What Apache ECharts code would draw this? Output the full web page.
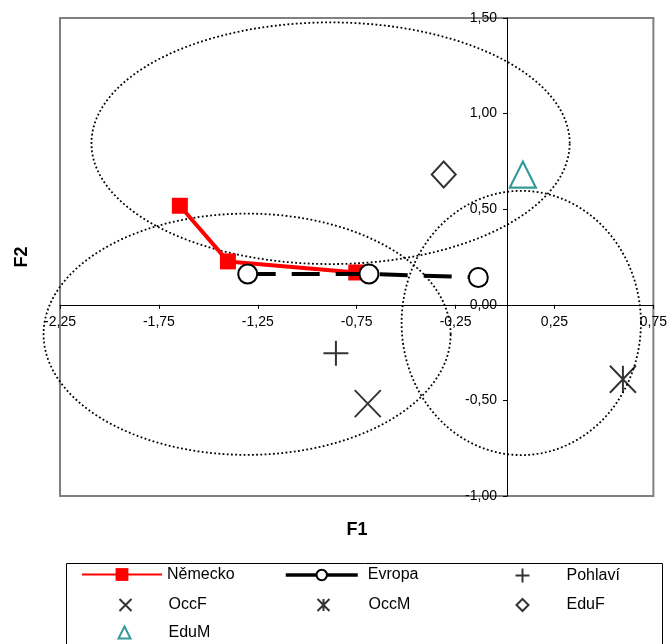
<!DOCTYPE html>
<html>
<head>
<meta charset="utf-8">
<script src="https://cdn.jsdelivr.net/npm/echarts@6/dist/echarts.min.js"></script>
<style>
  html, body { margin: 0; padding: 0; background: #fff; }
  #chart { width: 670px; height: 644px; }
</style>
</head>
<body>
<div id="chart"></div>
<script>
// ---- data ----
const xMin = -2.25, xMax = 0.75, xStep = 0.5;
const yMin = -1.0, yMax = 1.5, yStep = 0.5;

const nemecko = [[-1.644, 0.518], [-1.401, 0.227], [-0.752, 0.169]];
const evropa  = [[-1.301, 0.161], [-0.688, 0.161], [-0.135, 0.143]];
const pohlavi = [[-0.855, -0.254]];
const occF    = [[-0.694, -0.517]];
const occM    = [[0.596, -0.389]];
const eduF    = [[-0.310, 0.681]];
const eduM    = [[0.090, 0.681]];
// confidence ellipses: [centre x, centre y, radius x, radius y]
const ellipses = [
  [-0.882, 0.845, 1.209, 0.632],
  [-1.304, -0.154, 1.029, 0.631],
  [0.082, -0.095, 0.605, 0.691]
];

const FONT = '"Liberation Sans", Arial, sans-serif';
const fmt = v => v.toFixed(2).replace('.', ',');

// plot area layout
const G = { left: 60, top: 18, width: 596, height: 478 };
// axes cross at x = 0 and y = 0: shift them inside the grid accordingly
const yAxisShift = -(0 - xMin) / (xMax - xMin) * G.width;
const xAxisShift = -(0 - yMin) / (yMax - yMin) * G.height;

const chart = echarts.init(document.getElementById('chart'), null, { renderer: 'canvas' });

function legendItem(name, left, top, w, h, padLeft, extra) {
  return Object.assign({
    data: [name], left: left, top: top, itemWidth: w, itemHeight: h,
    padding: 0, selectedMode: false, orient: 'horizontal',
    textStyle: { fontFamily: FONT, fontSize: 16, color: '#000', padding: [0, 0, 0, padLeft] }
  }, extra || {});
}

const option = {
  animation: false,
  backgroundColor: '#fff',
  grid: Object.assign({
    show: true, borderColor: '#808080', borderWidth: 2, backgroundColor: 'transparent'
  }, G),
  xAxis: {
    type: 'value', min: xMin, max: xMax, interval: xStep,
    position: 'bottom', offset: xAxisShift,
    axisLine: { onZero: false, lineStyle: { color: '#000', width: 1 } },
    axisTick: { show: true, length: 4, lineStyle: { color: '#000' } },
    axisLabel: { formatter: fmt, color: '#000', fontFamily: FONT, fontSize: 14, margin: 10 },
    splitLine: { show: false }
  },
  yAxis: {
    type: 'value', min: yMin, max: yMax, interval: yStep,
    position: 'left', offset: yAxisShift,
    axisLine: { show: true, onZero: false, lineStyle: { color: '#000', width: 1 } },
    axisTick: { show: true, length: 4, lineStyle: { color: '#000' } },
    axisLabel: { formatter: fmt, color: '#000', fontFamily: FONT, fontSize: 14, margin: 10 },
    splitLine: { show: false }
  },
  legend: [
    legendItem('Německo', 81, 566.5, 80, 16, 0),
    legendItem('Evropa', 284, 567, 72, 13, 5, { lineStyle: { type: 'solid', width: 3.5 } }),
    legendItem('Pohlaví', 513, 566, 14, 14, 32),
    legendItem('OccF', 117, 596.5, 12, 12, 32),
    legendItem('OccM', 315, 596.5, 12, 12, 34),
    legendItem('EduF', 514, 596.5, 12, 12, 33),
    legendItem('EduM', 116, 624, 12, 12, 33)
  ],
  graphic: [
    { type: 'rect', left: 64, top: 561, shape: { width: 596, height: 100 },
      style: { fill: 'none', stroke: '#000', lineWidth: 1 }, z: -1 },
    { type: 'text', x: 22, y: 257, rotation: Math.PI / 2,
      style: { text: 'F2', font: 'bold 18px ' + FONT, fill: '#000',
               textAlign: 'center', textVerticalAlign: 'middle', align: 'center', verticalAlign: 'middle' } },
    { type: 'text', x: 357, y: 530,
      style: { text: 'F1', font: 'bold 18px ' + FONT, fill: '#000',
               textAlign: 'center', textVerticalAlign: 'middle', align: 'center', verticalAlign: 'middle' } }
  ],
  series: [
    {
      type: 'custom', name: 'ellipses', clip: false, silent: true, z: 1,
      dimensions: ['cx', 'cy', 'rx', 'ry'],
      encode: { x: 0, y: 1 },
      data: ellipses,
      renderItem: function (params, api) {
        const cx = api.value(0), cy = api.value(1), rx = api.value(2), ry = api.value(3);
        const pts = [];
        for (let i = 0; i <= 180; i++) {
          const t = 2 * Math.PI * i / 180;
          pts.push(api.coord([cx + rx * Math.cos(t), cy + ry * Math.sin(t)]));
        }
        return { type: 'polyline', shape: { points: pts },
                 style: { fill: 'none', stroke: '#000', lineWidth: 1.8, lineDash: [1.8, 2.4] } };
      }
    },
    {
      name: 'Německo', type: 'line', data: nemecko, z: 3,
      symbol: 'rect', symbolSize: 16,
      itemStyle: { color: '#ff0000' },
      lineStyle: { color: '#ff0000', width: 4 }
    },
    {
      name: 'Evropa', type: 'line', data: evropa, z: 4,
      symbol: 'circle', symbolSize: 19,
      itemStyle: { color: '#ffffff', borderColor: '#000', borderWidth: 2 },
      lineStyle: { color: '#000', width: 4, type: [28, 16] }
    },
    {
      name: 'Pohlaví', type: 'scatter', data: pohlavi, z: 5,
      symbol: 'path://M10,0L10,20M0,10L20,10', symbolSize: [25, 25],
      itemStyle: { color: 'none', borderColor: '#000', borderWidth: 2 }
    },
    {
      name: 'OccF', type: 'scatter', data: occF, z: 5,
      symbol: 'path://M0,0L20,20M20,0L0,20', symbolSize: [26, 27],
      itemStyle: { color: 'none', borderColor: '#000', borderWidth: 2 }
    },
    {
      name: 'OccM', type: 'scatter', data: occM, z: 5,
      symbol: 'path://M10,0L10,20M0,0L20,20M20,0L0,20', symbolSize: [26, 27],
      itemStyle: { color: 'none', borderColor: '#000', borderWidth: 2 }
    },
    {
      name: 'EduF', type: 'scatter', data: eduF, z: 5,
      symbol: 'path://M10,0L20,10L10,20L0,10Z', symbolSize: [24, 26],
      itemStyle: { color: 'none', borderColor: '#000', borderWidth: 2 }
    },
    {
      name: 'EduM', type: 'scatter', data: eduM, z: 5,
      symbol: 'path://M10,0L20,20L0,20Z', symbolSize: [26, 26],
      itemStyle: { color: 'none', borderColor: '#008080', borderWidth: 2.2 }
    }
  ]
};

chart.setOption(option);
</script>
</body>
</html>
